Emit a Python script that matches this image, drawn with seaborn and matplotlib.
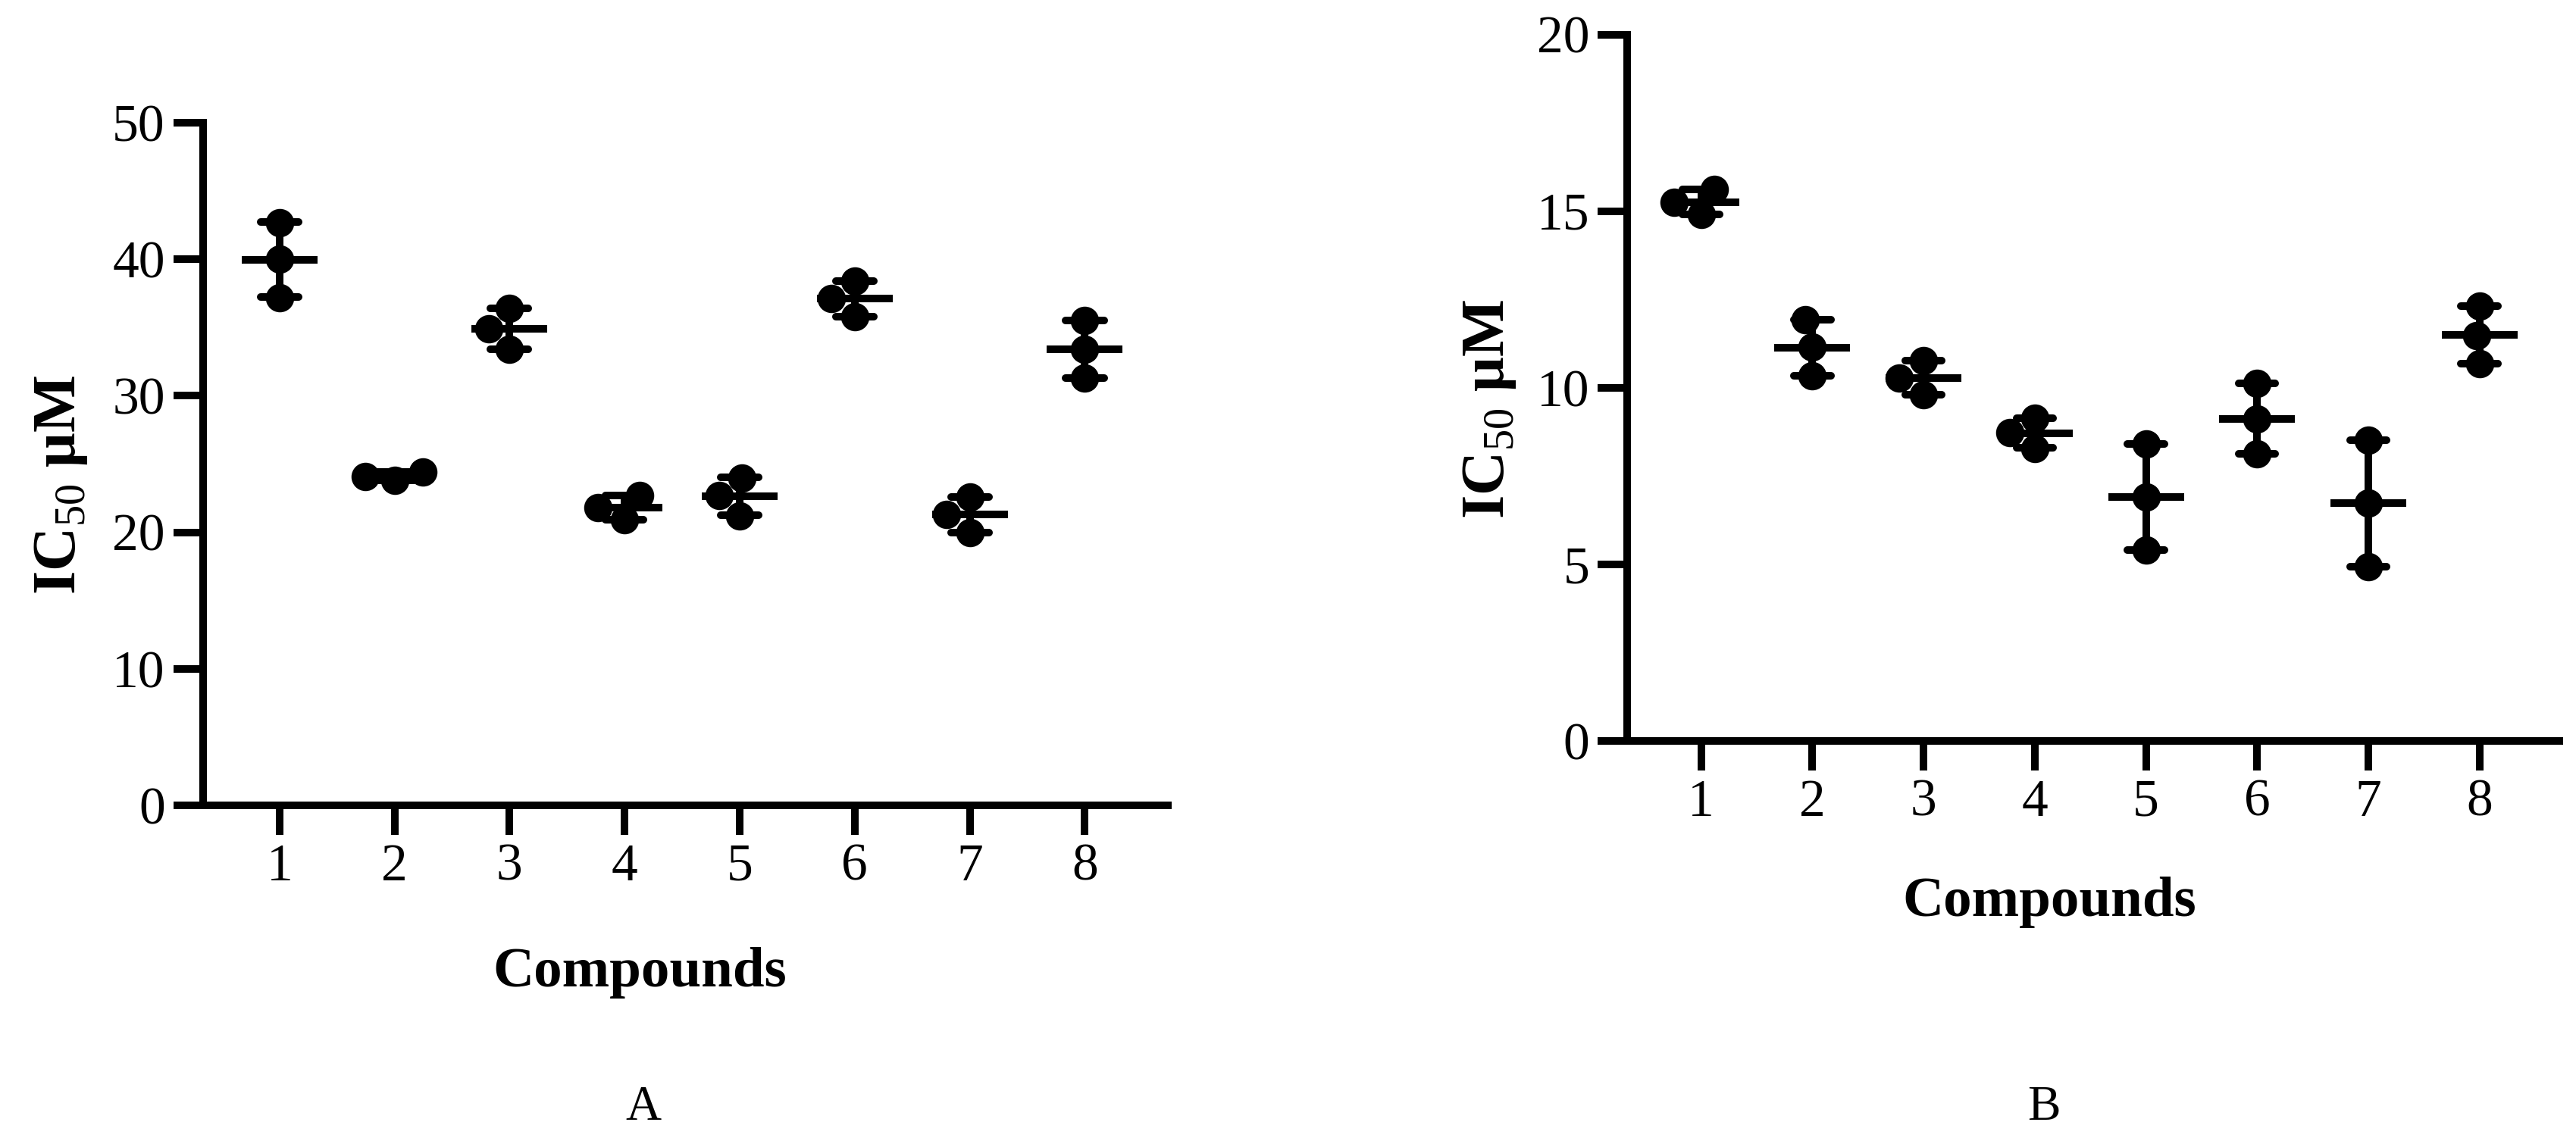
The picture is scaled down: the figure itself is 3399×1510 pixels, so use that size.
import matplotlib
matplotlib.use("Agg")
import pandas as pd
import matplotlib.pyplot as plt
import seaborn as sns

compounds = ["1", "2", "3", "4", "5", "6", "7", "8"]

# IC50 replicates (uM)
ic50_a_rep1 = [42.7, 23.8, 33.4, 20.9, 21.2, 35.8, 20.0, 35.5]
ic50_a_rep2 = [40.0, 24.4, 36.4, 22.7, 24.0, 38.4, 22.6, 33.4]
ic50_a_rep3 = [37.2, 24.1, 34.9, 21.8, 22.7, 37.1, 21.3, 31.3]

# IC50 replicates (uM)
ic50_b_rep1 = [14.90, 11.93, 9.80, 8.29, 8.41, 10.12, 8.52, 12.31]
ic50_b_rep2 = [15.62, 11.15, 10.77, 9.14, 6.91, 9.12, 6.73, 11.48]
ic50_b_rep3 = [15.26, 10.34, 10.27, 8.72, 5.41, 8.12, 4.93, 10.68]

yticks_a = [0, 10, 20, 30, 40, 50]
yticks_b = [0, 5, 10, 15, 20]

df_a = pd.DataFrame({"compound": compounds * 3,
                     "ic50": ic50_a_rep1 + ic50_a_rep2 + ic50_a_rep3})
df_b = pd.DataFrame({"compound": compounds * 3,
                     "ic50": ic50_b_rep1 + ic50_b_rep2 + ic50_b_rep3})

sns.set_style("ticks")
plt.rcParams["font.family"] = ["Liberation Serif", "DejaVu Serif"]
plt.rcParams["mathtext.fontset"] = "custom"
plt.rcParams["mathtext.rm"] = "Liberation Serif"
for key in ["text.color", "axes.labelcolor", "axes.edgecolor",
            "xtick.color", "ytick.color"]:
    plt.rcParams[key] = "black"

LW = 7.2
fig = plt.figure(figsize=(33.99, 15.10), dpi=100)
ax_a = fig.add_axes([0.0788, 0.296, 0.3745, 0.5967])
ax_b = fig.add_axes([0.6317, 0.3523, 0.3619, 0.6175])


def draw_panel(ax, df, yticks, xlab_y, ylab_x):
    sns.swarmplot(data=df, x="compound", y="ic50", color="black", size=27,
                  linewidth=0, ax=ax, zorder=3)
    sns.pointplot(data=df, x="compound", y="ic50", errorbar="sd", capsize=0.33,
                  color="black", markers="_", linestyles="none",
                  markersize=72, markeredgewidth=LW,
                  err_kws={"linewidth": LW}, ax=ax, zorder=4)
    ax.set_ylim(yticks[0], yticks[-1])
    ax.set_yticks(yticks)
    ax.set_xlim(-0.665, 7.72)
    sns.despine(ax=ax)
    for side in ["left", "bottom"]:
        ax.spines[side].set_linewidth(LW)
    ax.tick_params(axis="both", direction="out", length=28, width=LW,
                   labelsize=50, pad=8)
    ax.set_xlabel("Compounds", fontsize=54, fontweight="bold")
    ax.set_ylabel(r"IC$_{\mathrm{50}}$ μM", fontsize=58, fontweight="bold")
    ax.xaxis.set_label_coords(0.453, xlab_y)
    ax.yaxis.set_label_coords(ylab_x, 0.47)


draw_panel(ax_a, df_a, yticks_a, -0.207, -0.118)
draw_panel(ax_b, df_b, yticks_b, -0.192, -0.117)

fig.text(0.2498, 0.0212, "A", fontsize=47, ha="center", va="baseline")
fig.text(0.7935, 0.0212, "B", fontsize=47, ha="center", va="baseline")

fig.savefig("out.png", dpi=100, facecolor="white")
